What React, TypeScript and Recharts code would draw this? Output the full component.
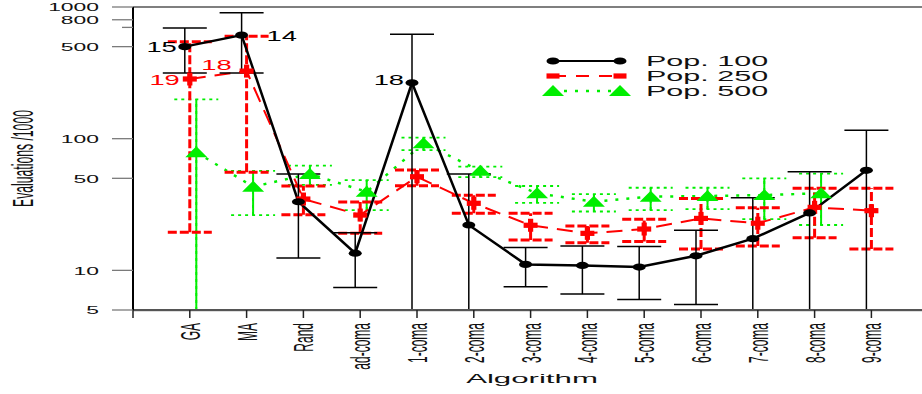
import React from 'react';
import { ComposedChart, Line, XAxis, YAxis, ErrorBar, ReferenceLine, LabelList, Customized } from 'recharts';

// ---------------- data ----------------
const categories = ['GA', 'MA', 'Rand', 'ad-coma', '1-coma', '2-coma', '3-coma', '4-coma', '5-coma', '6-coma', '7-coma', '8-coma', '9-coma'];

// lower bounds of 5 mean "runs down to (or past) the bottom of the axis"
const pop100 = [500, 612, 33.2, 13.5, 266, 22.1, 11.1, 10.9, 10.6, 12.9, 17.4, 27.3, 57.5];
const pop100Low = [315, 315, 12.4, 7.4, 5, 5, 7.5, 6.6, 6.0, 5.5, 5, 5, 5];
const pop100High = [692, 904, 54, 19.3, 620, 54, 14.9, 15.3, 15.2, 20.2, 35.6, 56, 116];
const pop100Labels = ['15', '14', '', '', '18', '', '', '', '', '', '', '', ''];

const pop250 = [284, 326, 34.8, 26.3, 51.4, 32.3, 22, 19.1, 20.6, 24.8, 22.8, 30.1, 28.4];
const pop250Low = [19.5, 55.6, 26.5, 19.1, 44, 27.1, 17, 16.2, 16.6, 14.5, 15.3, 17.7, 14.5];
const pop250High = [545, 600, 43.7, 33, 57.8, 37.2, 27.1, 21.7, 24.4, 35.2, 29.9, 42, 42];
const pop250Labels = ['19', '18', '', '', '', '', '', '', '', '', '', '', ''];

const pop500 = [78.8, 43.2, 54, 39.5, 92.2, 57, 38.5, 33.2, 36.3, 36.7, 37.3, 38.5, null];
const pop500Low = [5, 26.3, 44.6, 28.7, 81.9, 51, 32.6, 28, 28.7, 29.2, 24.5, 22.1, null];
const pop500High = [199, 57, 62.4, 48.5, 102, 61.4, 43.7, 37.9, 42.4, 42.4, 50, 54.3, null];
const pop500Labels = ['', '', '', '', '', '', '', '', '', '', '', '', ''];

const seriesNames = ['Pop. 100', 'Pop. 250', 'Pop. 500'];
const yTicks = [5, 10, 50, 100, 500, 700, 800, 1000];
const yTickLabels = ['5', '10', '50', '100', '500', '', '800', '1000'];
const xTicks = [0, 1, 2, 3, 4, 5, 6, 7, 8, 9, 10, 11, 12, 13];
const yTitle = 'Evaluations /1000';
const xTitle = 'Algorithm';

// ---------------- layout / style ----------------
const W = 922;
const H = 394;
const PLOT_LEFT = 133;
const PLOT_TOP = 7;
const PLOT_BOTTOM = 310;
const STEP = 56.8;
const X_SPAN = (W - PLOT_LEFT) / STEP;
const DODGE_BLACK = 5 / STEP;
const DODGE_GREEN = -6.5 / STEP;
const FONT = '"Liberation Sans", Arial, Helvetica, sans-serif';
const BLACK = '#000000';
const RED = '#ff0000';
const GREEN = '#00ee00';

const err = (v: number | null, lo: number | null, hi: number | null) =>
  v == null || lo == null || hi == null ? null : [v - lo, hi - v];

const data = categories.map((cat, i) => ({
  pos: i + 1,
  cat,
  p100: pop100[i],
  e100: err(pop100[i], pop100Low[i], pop100High[i]),
  l100: pop100Labels[i],
  p250: pop250[i],
  e250: err(pop250[i], pop250Low[i], pop250High[i]),
  l250: pop250Labels[i],
  p500: pop500[i],
  e500: err(pop500[i], pop500Low[i], pop500High[i]),
  l500: pop500Labels[i],
}));

type Kind = 'circle' | 'plus' | 'triangle';

const Marker = ({ kind, cx, cy, color, legend }: { kind: Kind; cx: number; cy: number; color: string; legend?: boolean }) => {
  if (cx == null || cy == null || isNaN(cx) || isNaN(cy)) return <g />;
  if (kind === 'circle') return <ellipse cx={cx} cy={cy} rx={6.5} ry={3.6} fill={color} />;
  if (kind === 'plus') {
    if (legend) return <rect x={cx - 6.5} y={cy - 2.6} width={13} height={5.2} fill={color} />;
    return (
      <g fill={color}>
        <rect x={cx - 7} y={cy - 2.6} width={14} height={5.2} />
        <rect x={cx - 2.6} y={cy - 6.5} width={5.2} height={13} />
      </g>
    );
  }
  return <polygon points={`${cx - 11},${cy + 5} ${cx + 11},${cy + 5} ${cx},${cy - 6}`} fill={color} />;
};

const dotFor = (kind: Kind, color: string) => (p: any) => (
  <Marker key={`m-${kind}-${p.index}`} kind={kind} cx={p.cx} cy={p.cy} color={color} />
);

// label placement (style only)
const labelPlacement: Record<string, { dx: number; dy: number; anchor: 'start' | 'end' }> = {
  'p100-0': { dx: -8, dy: 5, anchor: 'end' },
  'p100-1': { dx: 25, dy: 6, anchor: 'start' },
  'p100-4': { dx: -8, dy: 2, anchor: 'end' },
  'p250-0': { dx: -10, dy: 6, anchor: 'end' },
  'p250-1': { dx: -15, dy: -1, anchor: 'end' },
};

const labelFor = (series: string, color: string) => (props: any) => {
  const { x, y, value, index } = props;
  if (!value) return null;
  const pl = labelPlacement[`${series}-${index}`] || { dx: -8, dy: 5, anchor: 'end' };
  return (
    <text
      transform={`translate(${x + pl.dx}, ${y + pl.dy}) scale(1.95,1)`}
      textAnchor={pl.anchor}
      fontSize={14}
      fontFamily={FONT}
      fill={color}
    >
      {value}
    </text>
  );
};

const YTick = (props: any) => {
  const { y, payload } = props;
  const idx = yTicks.indexOf(payload.value);
  const label = yTickLabels[idx];
  const short = label === '';
  return (
    <g>
      <line x1={short ? 122 : 112} x2={PLOT_LEFT} y1={y} y2={y} stroke="#7a7a7a" strokeWidth={1.3} />
      {label ? (
        <text transform={`translate(99, ${y + 4.3}) scale(2.08,1)`} textAnchor="end" fontSize={11} fontFamily={FONT} fill="#111">
          {label}
        </text>
      ) : null}
    </g>
  );
};

const XTick = (props: any) => {
  const { x, payload } = props;
  const i = payload.value;
  return (
    <g>
      <line x1={x} x2={x} y1={PLOT_BOTTOM} y2={PLOT_BOTTOM + 8} stroke="#222" strokeWidth={1.5} />
      {i >= 1 && i <= categories.length ? (
        <text
          transform={`translate(${x + 10}, 323) rotate(-90) scale(1,2.3)`}
          textAnchor="end"
          fontSize={12}
          fontFamily={FONT}
          fill="#111"
        >
          {categories[i - 1]}
        </text>
      ) : null}
    </g>
  );
};

const legendStyle = [
  { kind: 'circle' as Kind, color: BLACK, dash: undefined as string | undefined, width: 2 },
  { kind: 'plus' as Kind, color: RED, dash: '13 10', width: 2 },
  { kind: 'triangle' as Kind, color: GREEN, dash: '3 8', width: 2.5 },
];

const Decor = () => {
  const rows = [61, 76, 91];
  return (
    <g>
      <rect x={PLOT_LEFT} y={PLOT_BOTTOM - 1} width={W - PLOT_LEFT} height={2.2} fill="#555" />
      <rect x={PLOT_LEFT - 1} y={PLOT_TOP} width={2} height={PLOT_BOTTOM - PLOT_TOP + 1} fill="#000" />
      <text transform={`translate(33, 158.5) rotate(-90) scale(1,2.4)`} textAnchor="middle" fontSize={12.2} fontFamily={FONT} fill="#111">
        {yTitle}
      </text>
      <text transform={`translate(532, 383) scale(2.4,1)`} textAnchor="middle" fontSize={13} fontFamily={FONT} fill="#111">
        {xTitle}
      </text>
      {seriesNames.map((name, i) => {
        const s = legendStyle[i];
        const y = rows[i];
        return (
          <g key={name}>
            <line x1={553} x2={620} y1={y} y2={y} stroke={s.color} strokeWidth={s.width} strokeDasharray={s.dash} />
            <Marker kind={s.kind} cx={553} cy={y} color={s.color} legend />
            <Marker kind={s.kind} cx={620} cy={y} color={s.color} legend />
            <text transform={`translate(646, ${y + 5}) scale(2.18,1)`} fontSize={14} fontFamily={FONT} fill="#111">
              {name}
            </text>
          </g>
        );
      })}
    </g>
  );
};

export default function App() {
  return (
    <div style={{ position: 'absolute', left: 0, top: 0, width: W, height: H, background: '#fff' }}>
      <ComposedChart width={W} height={H} data={data} margin={{ top: PLOT_TOP, right: 0, bottom: 0, left: 0 }}>
        <XAxis
          xAxisId="main"
          dataKey="pos"
          type="number"
          domain={[0, X_SPAN]}
          ticks={xTicks}
          allowDataOverflow
          height={H - PLOT_BOTTOM}
          axisLine={{ stroke: '#555', strokeWidth: 2.2 }}
          tickLine={false}
          tick={<XTick />}
          interval={0}
        />
        <XAxis xAxisId="black" orientation="top" dataKey="pos" type="number" domain={[DODGE_BLACK, X_SPAN + DODGE_BLACK]} allowDataOverflow hide />
        <XAxis xAxisId="green" orientation="top" dataKey="pos" type="number" domain={[DODGE_GREEN, X_SPAN + DODGE_GREEN]} allowDataOverflow hide />
        <YAxis
          scale="log"
          domain={[5, 1000]}
          ticks={yTicks}
          allowDataOverflow
          width={PLOT_LEFT}
          axisLine={{ stroke: '#000', strokeWidth: 2 }}
          tickLine={false}
          tick={<YTick />}
          interval={0}
        />
        <ReferenceLine xAxisId="main" y={1000} stroke="#555" strokeWidth={1.3} />

        <Line
          xAxisId="green"
          dataKey="p500"
          name={seriesNames[2]}
          stroke={GREEN}
          strokeWidth={2.5}
          strokeDasharray="3 8"
          dot={dotFor('triangle', GREEN)}
          activeDot={false}
          isAnimationActive={false}
        >
          <ErrorBar dataKey="e500" width={22} stroke={GREEN} strokeWidth={1.8} strokeDasharray="3 4" />
          <ErrorBar dataKey="e500" width={0} stroke={GREEN} strokeWidth={2} />
          <LabelList dataKey="l500" content={labelFor('p500', GREEN)} />
        </Line>
        <Line
          xAxisId="main"
          dataKey="p250"
          name={seriesNames[1]}
          stroke={RED}
          strokeWidth={2}
          strokeDasharray="16 9"
          dot={dotFor('plus', RED)}
          activeDot={false}
          isAnimationActive={false}
        >
          <ErrorBar dataKey="e250" width={22} stroke={RED} strokeWidth={3} strokeDasharray="9 3" />
          <LabelList dataKey="l250" content={labelFor('p250', RED)} />
        </Line>
        <Line
          xAxisId="black"
          dataKey="p100"
          name={seriesNames[0]}
          stroke={BLACK}
          strokeWidth={2.5}
          dot={dotFor('circle', BLACK)}
          activeDot={false}
          isAnimationActive={false}
        >
          <ErrorBar dataKey="e100" width={22} stroke={BLACK} strokeWidth={1.5} />
          <LabelList dataKey="l100" content={labelFor('p100', BLACK)} />
        </Line>
        <Customized component={Decor} />
      </ComposedChart>
    </div>
  );
}
